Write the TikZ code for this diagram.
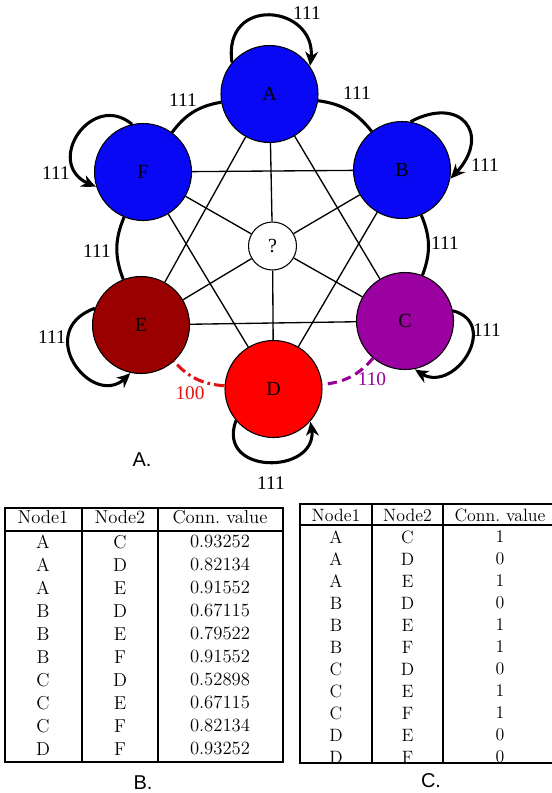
\documentclass[tikz,border=0pt]{standalone}
\usepackage{fontspec}
\newfontfamily\graphfont{Liberation Serif}
\newfontfamily\panelfont{Liberation Sans}
\usetikzlibrary{arrows.meta,bending}
\definecolor{stateblue}{RGB}{8,8,245}
\definecolor{statedarkred}{RGB}{155,0,0}
\definecolor{statepurple}{RGB}{155,0,160}
\definecolor{statered}{RGB}{255,0,0}
\definecolor{linkred}{RGB}{225,20,20}
\definecolor{linkpurple}{RGB}{150,0,150}
\begin{document}
\begin{tikzpicture}[x=0.75pt,y=0.75pt,
  state/.style={circle, draw=black, line width=0.8pt, minimum size=72.75pt,
    inner sep=0pt, font=\graphfont\fontsize{15}{17}\selectfont},
  hub/.style={circle, draw=black, fill=white, line width=0.8pt, minimum size=36pt,
    inner sep=0pt, font=\graphfont\fontsize{15}{17}\selectfont},
  link/.style={line width=1pt},
  rim/.style={line width=2.3pt},
  selfloop/.style={line width=2.3pt, -{Stealth[length=11pt,width=9.5pt,inset=3.5pt,bend]}},
  weight/.style={font=\graphfont\fontsize{14.5}{16}\selectfont, inner sep=0pt},
  panel/.style={font=\panelfont\fontsize{15}{17}\selectfont, inner sep=0pt},
  cellb/.style={font=\fontsize{14}{16}\selectfont, inner sep=0pt},
  cellc/.style={font=\fontsize{13.4}{15}\selectfont, inner sep=0pt},
  rule/.style={line width=1.1pt}
]
\clip (0,0) rectangle (552,-793);

% ---- graph states ----
\node[state, fill=stateblue]    (A) at (269.5,-94) {A};
\node[state, fill=stateblue]    (B) at (402,-170)  {B};
\node[state, fill=stateblue]    (F) at (143,-172)  {F};
\node[state, fill=statedarkred] (E) at (141,-325)  {E};
\node[state, fill=statepurple]  (C) at (405,-321)  {C};
\node[state, fill=statered]     (D) at (273.5,-389) {D};
\node[hub] (Q) at (272.5,-246) {?};

% ---- inner connections ----
\draw[link] (A) -- (C);
\draw[link] (A) -- (E);
\draw[link] (B) -- (D);
\draw[link] (B) -- (F);
\draw[link] (F) -- (D);
\draw[link] (E) -- (C);
\foreach \n in {A,B,C,D,E,F} \draw[link] (\n) -- (Q);

% ---- outer ring ----
\draw[rim] (A) to[bend left=22] (B);
\draw[rim] (F) to[bend left=22] (A);
\draw[rim] (E) to[bend left=22] (F);
\draw[rim] (B) to[bend left=22] (C);
\draw[rim, linkred, dash pattern=on 8pt off 3pt on 2pt off 3pt] (D) to[bend left=22] (E);
\draw[rim, linkpurple, dash pattern=on 7pt off 4pt] (C) to[bend left=22] (D);

% ---- self loops ----
\draw[selfloop] (A.140) .. controls +(98:72) and +(75:62) .. (A.35);
\draw[selfloop] (B.80)  .. controls +(28:60) and +(42:60) .. (B.-10);
\draw[selfloop] (C.12)  .. controls +(-15:52) and +(-45:48) .. (C.-78);
\draw[selfloop] (D.220) .. controls +(-110:62) and +(-70:56) .. (D.-42);
\draw[selfloop] (E.160) .. controls +(200:70) and +(-125:55) .. (E.-103);
\draw[selfloop] (F.103) .. controls +(140:55) and +(165:60) .. (F.197);

% ---- weights ----
\node[weight] (wAA) at (307,-13)  {111};
\node[weight] (wBB) at (485,-165) {111};
\node[weight] (wCC) at (487,-330) {111};
\node[weight] (wDD) at (271,-483) {111};
\node[weight] (wEE) at (52,-337)  {111};
\node[weight] (wFF) at (56,-173)  {111};
\node[weight] (wAB) at (357,-93)  {111};
\node[weight] (wFA) at (183,-100) {111};
\node[weight] (wEF) at (97,-251)  {111};
\node[weight] (wBC) at (445,-243) {111};
\node[weight, text=linkred]    (wDE) at (190,-393) {100};
\node[weight, text=linkpurple] (wCD) at (372,-379) {110};

\node[panel] (labA) at (142,-460) {A.};

% ---- table of connection values ----
\draw[rule] (5,-508) rectangle (283,-762);
\draw[rule] (5,-531) -- (283,-531);
\draw[rule] (82,-508) -- (82,-762);
\draw[rule] (158,-508) -- (158,-762);
\node[cellb] (hb1) at (43,-517.5)  {Node1};
\node[cellb] (hb2) at (120,-517.5) {Node2};
\node[cellb] (hb3) at (220,-517.5) {Conn.\ value};
\foreach \p/\q/\v [count=\i from 0] in {A/C/0.93252, A/D/0.82134, A/E/0.91552,
    B/D/0.67115, B/E/0.79522, B/F/0.91552, C/D/0.52898, C/E/0.67115,
    C/F/0.82134, D/F/0.93252} {
  \node[cellb] (b\i a) at (43,{-541.7-23*\i})  {\p};
  \node[cellb] (b\i b) at (120,{-541.7-23*\i}) {\q};
  \node[cellb] (b\i c) at (220,{-541.7-23*\i}) {\v};
}
\node[panel] (labB) at (143,-783) {B.};

% ---- table of binary connections ----
\draw[rule] (300,-504) rectangle (557,-763);
\draw[rule] (300,-525) -- (557,-525);
\draw[rule] (372,-504) -- (372,-763);
\draw[rule] (443,-504) -- (443,-763);
\node[cellc] (hc1) at (336,-515)   {Node1};
\node[cellc] (hc2) at (407.5,-515) {Node2};
\node[cellc] (hc3) at (500,-515)   {Conn.\ value};
\foreach \p/\q/\v [count=\i from 0] in {A/C/1, A/D/0, A/E/1, B/D/0, B/E/1,
    B/F/1, C/D/0, C/E/1, C/F/1, D/E/0, D/F/0} {
  \node[cellc] (c\i a) at (336,{-537-22*\i})   {\p};
  \node[cellc] (c\i b) at (407.5,{-537-22*\i}) {\q};
  \node[cellc] (c\i c) at (500,{-537-22*\i})   {\v};
}
\node[panel] (labC) at (431,-781) {C.};
\end{tikzpicture}
\end{document}
